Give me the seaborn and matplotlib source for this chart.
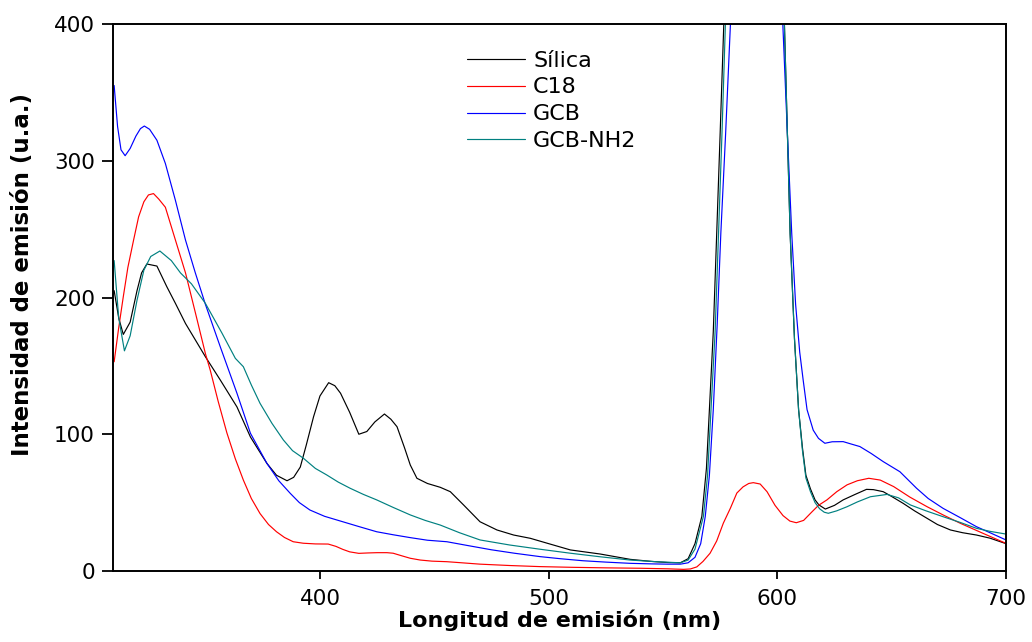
import numpy as np
import pandas as pd
import matplotlib
matplotlib.use("Agg")
import matplotlib.pyplot as plt
import seaborn as sns

# ---------------- data ----------------
silica_nm = [310, 312, 314, 317, 320, 322, 324.3, 328.7, 333, 336.8, 341.2, 345.5, 349.9, 356.4, 363.7,
             369.6, 376.8, 381, 385.6, 388.5, 391.4, 394, 397.2, 400, 403.8, 406.5, 409, 413, 417, 420.5,
             424, 428.2, 431, 433.7, 437, 439.5, 442.4, 447, 452.6, 457, 462.8, 470, 477.4, 484.7, 492,
             500, 509.5, 522.6, 535.7, 545, 552, 557.6, 561, 564, 567, 569, 570.3, 572, 573.5, 575, 576.6,
             580, 590, 600, 603.1, 605.6, 607.5, 609.3, 611, 612.5, 614.5, 616.5, 618.2, 621, 625, 628.8,
             634, 639, 642, 646.3, 650, 655, 660, 665.5, 670, 675.7, 681, 687.1, 693, 700]
silica_val = [205, 185, 173, 182, 205, 218, 224.5, 223, 208, 195.7, 181, 169, 156.7, 139.7, 120,
              98, 78.7, 70, 66, 68.5, 76, 92, 112.8, 128, 137.7, 135.5, 130, 116, 100, 102,
              109, 114.8, 111, 105.5, 90, 77.5, 67.8, 64, 61.2, 58, 48.3, 36, 30, 26.3, 23.9,
              20, 15.4, 12.4, 8.5, 7, 6.2, 6, 9, 20, 40, 75, 118, 175, 247, 320, 400,
              550, 850, 550, 400, 247, 170, 118, 90, 70, 60, 52, 48.3, 45.3, 48, 52,
              56, 59.7, 59.5, 58, 54.5, 49.5, 44, 38.5, 34, 30, 28, 26.3, 24, 20]

c18_nm = [310, 312, 314, 316, 318.5, 320.7, 323, 325, 327.2, 329.5, 332.4, 336.8, 341.2, 345.5, 349.9,
          352, 355.5, 359.3, 363, 366.5, 370, 373.8, 377.5, 381, 384.5, 388.3, 392.7, 398, 403.6, 407,
          410, 413, 417, 421, 425, 429.3, 432, 436, 439.5, 443.9, 449, 455.5, 462, 470, 483, 496.3,
          510, 525, 540, 552, 559, 562, 564.8, 567.5, 570.6, 573.5, 576.4, 579.5, 582.3, 585, 587.5,
          589.5, 592.5, 595.5, 599, 602.5, 605.5, 608.3, 611.5, 615, 618, 621.7, 626, 630.5, 635, 640,
          645, 650.9, 658, 665.5, 672.5, 680, 690, 700]
c18_val = [153, 178, 200.6, 222, 242, 259, 270, 275, 276, 272, 266, 242, 218, 189, 159,
           147, 124, 101, 82, 66.5, 53, 42, 34, 28.7, 24.5, 21.4, 20.3, 19.8, 19.7, 18,
           15.8, 14, 12.9, 13.2, 13.4, 13.4, 13, 11, 9.3, 8, 7.2, 6.8, 6, 5, 4, 3.2,
           2.7, 2.3, 2, 1.6, 1.2, 1.5, 3, 7, 13, 22, 35, 46, 57, 61.5, 64,
           64.6, 63.6, 58, 48, 40.5, 36.5, 35.3, 37, 43, 48, 52, 58, 63, 66, 67.8,
           66.5, 61.7, 54, 47, 41, 34.9, 27.5, 20.2]

gcb_nm = [310, 311.5, 313, 314.8, 317, 319.5, 321.5, 323.2, 325.5, 328.7, 332.4, 336.8, 341.2, 345.5,
          349.9, 356.4, 363.7, 369.6, 376.8, 382, 387, 391, 395.6, 402, 410, 417, 424.8, 432, 439.5,
          447, 455.5, 465, 475, 485, 496.3, 505, 515, 525, 535.7, 545, 552, 557.6, 561, 564, 566.5,
          568.5, 570.3, 572, 573.7, 575.3, 577.4, 579.5, 585, 590, 597, 602.4, 604.4, 606.3, 608,
          609.8, 611.3, 613, 615.7, 618, 620.8, 624, 628.8, 632, 636.1, 641, 646.3, 653.6, 660.9,
          666, 672.5, 680, 687.1, 693, 700]
gcb_val = [355, 325, 308, 303.7, 309, 318, 323.5, 325.4, 323, 315, 298, 271, 242, 218,
           195, 164, 130, 100.7, 78.7, 66, 56.8, 50, 44.6, 40, 36, 32.5, 28.7, 26.5, 24.4,
           22.5, 21.4, 18.5, 15.5, 13, 10.5, 9, 7.5, 6.5, 5.6, 5.2, 5, 5, 6, 10, 20,
           40, 70, 118, 180, 247, 320, 400, 600, 850, 600, 400, 320, 247, 195,
           160, 139.7, 118, 103, 97, 93.4, 94.5, 94.6, 93, 91, 86, 80, 72.6, 60.5,
           53, 45.8, 39, 32.4, 28, 22.7]

nh2_nm = [310, 312, 314.5, 317, 320, 323, 326, 330, 335, 339, 343.8, 349.9, 357.2, 363, 366.5, 370,
          373.8, 379, 384, 388, 392.8, 398, 403, 408, 413.2, 419, 424.8, 432, 439.5, 446, 452.6, 461,
          470, 483, 496.3, 509.5, 522, 535.7, 547, 557.6, 561, 564, 567.7, 569.5, 571, 572.8, 574.3,
          575.8, 577.3, 580, 590, 600, 603.1, 605.6, 607.5, 609.3, 611, 612.5, 614.5, 616.5, 618.5,
          620.5, 622.3, 626, 630.5, 635, 640.7, 648, 653, 658.2, 665, 672.5, 680, 687.1, 693, 700]
nh2_val = [227, 185, 161, 172, 198, 220, 230, 234, 227, 218, 210, 195.7, 173.8, 155.5, 149.4, 136,
           122.6, 108, 95.8, 88, 82.4, 75, 70.2, 65, 60.5, 56, 52, 46.5, 41, 37, 33.6, 28,
           22.7, 19, 15.9, 13, 10.5, 8, 6.8, 6, 8, 16, 40, 70, 118, 175, 247,
           320, 400, 550, 850, 550, 400, 247, 170, 118, 88, 68, 58, 50, 45.5,
           43, 42.2, 44, 47, 50.5, 54.3, 56, 53.5, 48.3, 44, 39.7, 35.5, 31.2, 29, 27]

labels = ["Sílica", "C18", "GCB", "GCB-NH2"]
colors = ["#000000", "#ff0000", "#0000ff", "#008080"]

frames = []
for lab, xs, ys in zip(labels, [silica_nm, c18_nm, gcb_nm, nh2_nm],
                       [silica_val, c18_val, gcb_val, nh2_val]):
    frames.append(pd.DataFrame({"nm": xs, "val": ys, "serie": lab}))
df = pd.concat(frames, ignore_index=True)

# ---------------- plot ----------------
sns.set_style("ticks")
plt.rcParams["font.family"] = ["DejaVu Sans"]
plt.rcParams["text.color"] = "black"
plt.rcParams["axes.labelcolor"] = "black"

fig = plt.figure(figsize=(10.32, 6.42), dpi=100)
ax = fig.add_axes([0.1095, 0.1106, 0.8653, 0.852])

sns.lineplot(data=df, x="nm", y="val", hue="serie", hue_order=labels,
             palette=dict(zip(labels, colors)), estimator=None, sort=False,
             linewidth=0.85, ax=ax)

ax.set_xlim(309.5, 700)
ax.set_ylim(0, 400)
ax.set_xticks([400, 500, 600, 700])
ax.set_yticks([0, 100, 200, 300, 400])
ax.tick_params(axis="both", labelsize=15.5, width=1.3, color="black", labelcolor="black")
ax.tick_params(axis="y", length=8, pad=5)
ax.tick_params(axis="x", length=6, pad=7)
for sp in ax.spines.values():
    sp.set_visible(True)
    sp.set_linewidth(1.4)
    sp.set_color("black")

ax.set_xlabel("Longitud de emisión (nm)", fontsize=16, fontweight="bold", labelpad=0,
              color="black")
ax.set_ylabel("Intensidad de emisión (u.a.)", fontsize=16.5, fontweight="bold",
              color="black")
ax.yaxis.set_label_coords(-0.088, 0.542)

handles, labs = ax.get_legend_handles_labels()
ax.legend(handles, labs, loc="upper left", bbox_to_anchor=(0.374, 0.988),
          frameon=False, fontsize=16, handlelength=2.6, handletextpad=0.38,
          labelspacing=0.31, labelcolor="black")

fig.savefig("out.png", dpi=100)
